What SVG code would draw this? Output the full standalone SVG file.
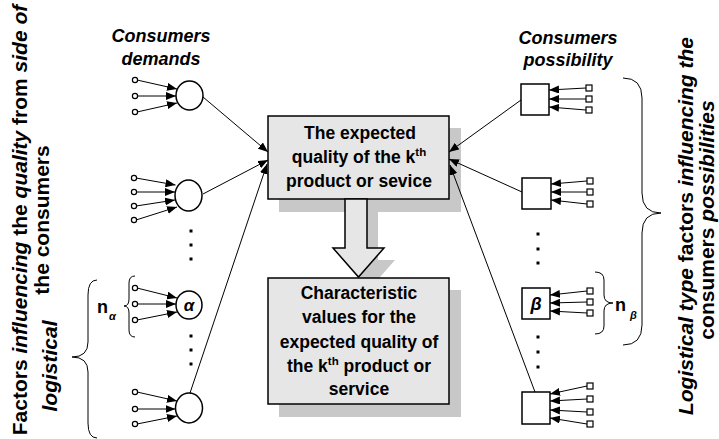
<svg xmlns="http://www.w3.org/2000/svg" width="719" height="439" viewBox="0 0 719 439">
<defs>
<marker id="ah" viewBox="0 0 10 8" refX="10" refY="4" markerWidth="10" markerHeight="8" markerUnits="userSpaceOnUse" orient="auto">
<path d="M0,0 L10,4 L0,8 Z" fill="#000"/>
</marker>
<style>
text{font-family:"Liberation Sans",Arial,sans-serif;font-weight:bold;fill:#000}
.lbl{font-size:18px;font-style:italic}
.box{fill:#e6e6e6;stroke:#000;stroke-width:1.5}
.shd{fill:#c8c8c8}
.bt{font-size:17.5px;text-anchor:middle}
.node{fill:#fff;stroke:#000;stroke-width:1.5}
.pin{fill:#fff;stroke:#000;stroke-width:1.2}
.ln{stroke:#000;stroke-width:1;fill:none;marker-end:url(#ah)}
.br{stroke:#000;stroke-width:1;fill:none}
.side{font-size:21px}
.it{font-style:italic}
.dot{fill:#000}
</style>
</defs>

<g id="labels">
<text class="lbl" x="161" y="42" text-anchor="middle">Consumers</text>
<text class="lbl" x="161" y="65" text-anchor="middle">demands</text>
<text class="lbl" x="568" y="44" text-anchor="middle">Consumers</text>
<text class="lbl" x="568" y="66" text-anchor="middle">possibility</text>
</g>

<g id="side-left">
<text class="side" transform="translate(27,220) rotate(-90)" text-anchor="middle">Factors <tspan class="it">influencing</tspan> the <tspan class="it">quality</tspan> from <tspan class="it">side of</tspan></text>
<text class="side" transform="translate(49,220) rotate(-90)" text-anchor="middle">the consumers</text>
<text class="side it" transform="translate(57,366) rotate(-90)" text-anchor="middle">logistical</text>
</g>

<g id="side-right">
<text class="side" font-size="21.5" transform="translate(693,226) rotate(-90)" text-anchor="middle"><tspan class="it">Logistical type</tspan> factors <tspan class="it">influencing the</tspan></text>
<text class="side" transform="translate(714,220) rotate(-90)" text-anchor="middle">consumers <tspan class="it">possibilities</tspan></text>
</g>

<g id="shadows">
<rect class="shd" x="279" y="128" width="182" height="84"/>
<polygon class="shd" points="356,211 378,211 378,260 395,260 369.5,289 344,260 356,260"/>
<rect class="shd" x="279" y="290" width="182" height="127"/>
</g>

<g id="box-expected">
<rect class="box" x="268" y="116" width="181" height="83"/>
<text class="bt" x="360" y="139">The expected</text>
<text class="bt" x="359" y="163">quality of the k<tspan font-size="11.5" dy="-7">th</tspan></text>
<text class="bt" x="359" y="187">product or sevice</text>
</g>

<g id="big-arrow">
<polygon points="345,199 367,199 367,248 384,248 358.5,277 333,248 345,248" fill="#e6e6e6" stroke="#000" stroke-width="1.5"/>
</g>

<g id="box-characteristic">
<rect class="box" x="268" y="278" width="181" height="126"/>
<text class="bt" x="359" y="299">Characteristic</text>
<text class="bt" x="359" y="323">values for the</text>
<text class="bt" x="359" y="348">expected quality of</text>
<text class="bt" x="359" y="372">the k<tspan font-size="11.5" dy="-7">th</tspan><tspan dy="7"> product or</tspan></text>
<text class="bt" x="359" y="395">service</text>
</g>

<g id="demand-1">
<ellipse class="node" cx="189.5" cy="95.5" rx="13.5" ry="14.5"/>
</g>
<g id="demand-2">
<ellipse class="node" cx="188.5" cy="195.5" rx="13.5" ry="15.5"/>
</g>
<g id="demand-alpha">
<ellipse class="node" cx="189" cy="305" rx="13" ry="14"/>
<text x="189" y="311" font-size="17" font-style="italic" text-anchor="middle" font-family="Liberation Serif,serif">α</text>
</g>
<g id="demand-4">
<ellipse class="node" cx="189" cy="408" rx="13.5" ry="15"/>
</g>

<g id="possibility-1"><rect class="node" x="521" y="84" width="28" height="31"/></g>
<g id="possibility-2"><rect class="node" x="522" y="178" width="29" height="31"/></g>
<g id="possibility-beta"><rect class="node" x="522" y="288" width="28" height="31"/>
<text x="536" y="310" font-size="18" font-style="italic" text-anchor="middle" font-family="Liberation Serif,serif">β</text></g>
<g id="possibility-4"><rect class="node" x="522" y="392" width="28" height="32"/></g>

<g id="connectors">
<line class="ln" x1="203" y1="97" x2="268" y2="152"/>
<line class="ln" x1="203" y1="194" x2="268" y2="160"/>
<line class="ln" x1="190" y1="393" x2="267" y2="164"/>
<line class="ln" x1="521" y1="100" x2="449" y2="152"/>
<line class="ln" x1="522" y1="192" x2="449" y2="159"/>
<line class="ln" x1="535" y1="392" x2="450" y2="165"/>

<line class="ln" x1="137" y1="80" x2="177" y2="89"/>
<line class="ln" x1="137.5" y1="96" x2="176" y2="96"/>
<line class="ln" x1="137" y1="112" x2="177" y2="103"/>

<line class="ln" x1="136" y1="178" x2="175.5" y2="185"/>
<line class="ln" x1="136.5" y1="192" x2="175" y2="192"/>
<line class="ln" x1="136" y1="206" x2="175" y2="200"/>
<line class="ln" x1="136" y1="220" x2="177" y2="207"/>

<line class="ln" x1="137" y1="288" x2="177" y2="298"/>
<line class="ln" x1="137.5" y1="304" x2="176" y2="304"/>
<line class="ln" x1="137" y1="320" x2="177" y2="312"/>

<line class="ln" x1="137" y1="392" x2="177" y2="401"/>
<line class="ln" x1="137.5" y1="409" x2="175.5" y2="409"/>
<line class="ln" x1="137" y1="424" x2="177" y2="416"/>

<line class="ln" x1="586" y1="88" x2="549" y2="90"/>
<line class="ln" x1="586" y1="99" x2="549" y2="99"/>
<line class="ln" x1="586" y1="110" x2="549" y2="107"/>

<line class="ln" x1="587" y1="181" x2="551" y2="184"/>
<line class="ln" x1="587" y1="192" x2="551" y2="192"/>
<line class="ln" x1="587" y1="204" x2="551" y2="200"/>

<line class="ln" x1="587" y1="291" x2="550" y2="295"/>
<line class="ln" x1="587" y1="302" x2="550" y2="303"/>
<line class="ln" x1="587" y1="313" x2="550" y2="311"/>

<line class="ln" x1="587" y1="386" x2="550" y2="394"/>
<line class="ln" x1="587" y1="399" x2="550" y2="401"/>
<line class="ln" x1="587" y1="412" x2="550" y2="410"/>
<line class="ln" x1="587" y1="424" x2="550" y2="418"/>
</g>

<g id="pins">
<circle class="pin" cx="135" cy="80" r="2.6"/>
<circle class="pin" cx="135" cy="96" r="2.6"/>
<circle class="pin" cx="135" cy="112" r="2.6"/>
<circle class="pin" cx="134" cy="178" r="2.6"/>
<circle class="pin" cx="134" cy="192" r="2.6"/>
<circle class="pin" cx="134" cy="206" r="2.6"/>
<circle class="pin" cx="134" cy="220" r="2.6"/>
<circle class="pin" cx="135" cy="288" r="2.6"/>
<circle class="pin" cx="135" cy="304" r="2.6"/>
<circle class="pin" cx="135" cy="320" r="2.6"/>
<circle class="pin" cx="135" cy="392" r="2.6"/>
<circle class="pin" cx="135" cy="409" r="2.6"/>
<circle class="pin" cx="135" cy="424" r="2.6"/>
<rect class="pin" x="586" y="85" width="6" height="6"/>
<rect class="pin" x="586" y="96" width="6" height="6"/>
<rect class="pin" x="586" y="107" width="6" height="6"/>
<rect class="pin" x="587" y="178" width="6" height="6"/>
<rect class="pin" x="587" y="189" width="6" height="6"/>
<rect class="pin" x="587" y="201" width="6" height="6"/>
<rect class="pin" x="587" y="288" width="6" height="6"/>
<rect class="pin" x="587" y="299" width="6" height="6"/>
<rect class="pin" x="587" y="310" width="6" height="6"/>
<rect class="pin" x="587" y="383" width="6" height="6"/>
<rect class="pin" x="587" y="396" width="6" height="6"/>
<rect class="pin" x="587" y="409" width="6" height="6"/>
<rect class="pin" x="587" y="421" width="6" height="6"/>
</g>

<g id="dots">
<rect class="dot" x="189.5" y="229.5" width="3" height="3"/>
<rect class="dot" x="189.5" y="243.5" width="3" height="3"/>
<rect class="dot" x="189.5" y="257.5" width="3" height="3"/>
<rect class="dot" x="189.5" y="334.5" width="3" height="3"/>
<rect class="dot" x="189.5" y="348.5" width="3" height="3"/>
<rect class="dot" x="189.5" y="362.5" width="3" height="3"/>
<rect class="dot" x="536.5" y="232.5" width="3" height="3"/>
<rect class="dot" x="536.5" y="247.5" width="3" height="3"/>
<rect class="dot" x="536.5" y="261.5" width="3" height="3"/>
<rect class="dot" x="536.5" y="335.5" width="3" height="3"/>
<rect class="dot" x="536.5" y="350.5" width="3" height="3"/>
<rect class="dot" x="536.5" y="365.5" width="3" height="3"/>
</g>

<g id="braces">
<path class="br" d="M135,276 Q129,276 129,283 L129,299 Q129,306 124,306 Q129,306 129,313 L129,330 Q129,337 135,337"/>
<path class="br" d="M97,280 Q88,280 88,295 L88,342 Q88,357 72,357 Q88,357 88,372 L88,423 Q88,438 97,438"/>
<path class="br" d="M595,272 Q604,272 604,280 L604,295 Q604,303 613,303 Q604,303 604,311 L604,326 Q604,334 595,334"/>
<path class="br" d="M623,78 Q642,78 642,98 L642,193 Q642,213 661,213 Q642,213 642,233 L642,325 Q642,345 623,345"/>
<text x="97" y="313" font-size="18">n</text>
<text x="109" y="320" font-size="11" font-style="italic">α</text>
<text x="615" y="311" font-size="18">n</text>
<text x="630" y="319" font-size="11" font-style="italic">β</text>
</g>
</svg>
